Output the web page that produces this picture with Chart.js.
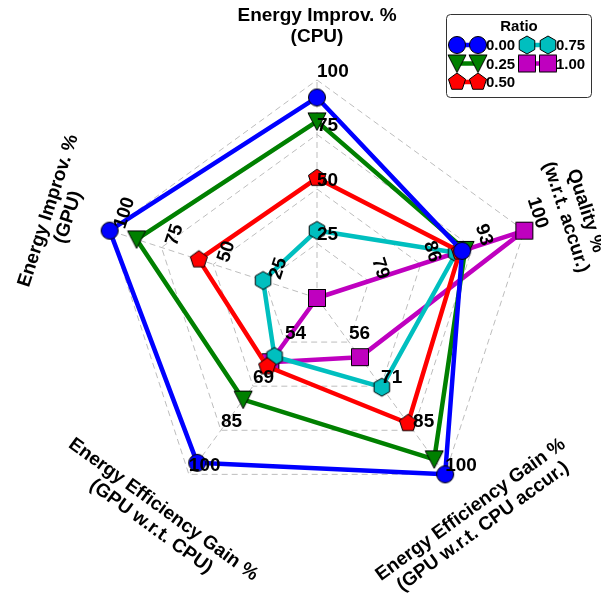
<!DOCTYPE html>
<html>
<head>
<meta charset="utf-8">
<script src="https://cdn.jsdelivr.net/npm/chart.js@4.4.1/dist/chart.umd.min.js"></script>
<style>
  html, body { margin: 0; padding: 0; background: #fff; }
  #wrap { width: 601px; height: 598px; }
</style>
</head>
<body>
<div id="wrap"><canvas id="radar" width="601" height="598"></canvas></div>
<script>
// Axis titles, clockwise from the top
const axisTitles = [
  ['Energy Improv. %', '(CPU)'],
  ['Quality %', '(w.r.t. accur.)'],
  ['Energy Efficiency Gain %', '(GPU w.r.t. CPU accur.)'],
  ['Energy Efficiency Gain %', '(GPU w.r.t. CPU)'],
  ['Energy Improv. %', '(GPU)'],
];

// Each axis has its own range (centre .. outer ring)
const axisMin = [0, 72, 41.33, 38.67, 0];
const axisMax = [100, 100, 100, 100, 100];

// Ring labels per axis (inner to outer)
const tickLabels = [
  ['25', '50', '75', '100'],
  ['79', '86', '93', '100'],
  ['56', '71', '85', '100'],
  ['54', '69', '85', '100'],
  ['25', '50', '75', '100'],
];

// Series, one per ratio, values in axis order
const ratios = ['0.00', '0.25', '0.50', '0.75', '1.00'];
const ratio000 = [92, 91.6, 100, 96, 100];
const ratio025 = [81, 92, 95, 74, 87];
const ratio050 = [55, 91.3, 83, 62.5, 57];
const ratio075 = [31, 90.8, 71, 59, 26];
const ratio100 = [0, 100, 61, 61, 0];

const FONT = '"Liberation Sans", Arial, sans-serif';

// Build a marker image (circle, square, triangle, pentagon, hexagon)
function makeMarker(shape, color) {
  const s = 24;
  const c = document.createElement('canvas');
  c.width = s; c.height = s;
  const g = c.getContext('2d');
  g.translate(s / 2, s / 2);
  g.beginPath();
  if (shape === 'circle') {
    g.arc(0, 0, 8.5, 0, Math.PI * 2);
  } else if (shape === 'square') {
    g.rect(-8.5, -8.5, 17, 17);
  } else if (shape === 'triangleDown') {
    g.moveTo(-9, -8.5); g.lineTo(9, -8.5); g.lineTo(0, 9); g.closePath();
  } else {
    const n = shape === 'pentagon' ? 5 : 6;
    const r = 9;
    for (let k = 0; k < n; k++) {
      const a = -Math.PI / 2 + k * 2 * Math.PI / n;
      const x = r * Math.cos(a), y = r * Math.sin(a);
      if (k === 0) g.moveTo(x, y); else g.lineTo(x, y);
    }
    g.closePath();
  }
  g.fillStyle = color;
  g.fill();
  g.lineWidth = 1;
  g.strokeStyle = '#000';
  g.stroke();
  return c;
}

// Map a raw value onto the 0..1 radial scale of its axis
function normalise(values) {
  return values.map((v, i) => (v - axisMin[i]) / (axisMax[i] - axisMin[i]));
}

const seriesStyle = [
  { values: ratio000, color: '#0000ff', shape: 'circle' },
  { values: ratio025, color: '#008000', shape: 'triangleDown' },
  { values: ratio050, color: '#ff0000', shape: 'pentagon' },
  { values: ratio075, color: '#00bfbf', shape: 'hexagon' },
  { values: ratio100, color: '#bf00bf', shape: 'square' },
];

const datasets = seriesStyle.map((s, i) => {
  const marker = makeMarker(s.shape, s.color);
  return {
    label: ratios[i],
    data: normalise(s.values),
    borderColor: s.color,
    backgroundColor: s.color,
    borderWidth: 4.5,
    borderJoinStyle: 'round',
    fill: false,
    pointStyle: marker,
    pointRadius: 9,
    clip: false,
  };
});

// Ring labels, rotated per axis, box-aligned left/bottom at the ring point
const tickRotation = [0, 72, 0, 0, -72];
const ringLabelsPlugin = {
  id: 'ringLabels',
  afterDatasetsDraw(chart) {
    const scale = chart.scales.r;
    const ctx = chart.ctx;
    const size = 19;
    ctx.save();
    ctx.font = 'bold ' + size + 'px ' + FONT;
    ctx.fillStyle = '#000';
    ctx.textAlign = 'center';
    ctx.textBaseline = 'middle';
    const ringValues = scale.ticks.map(t => t.value).filter(v => v > 0);
    tickLabels.forEach((labels, i) => {
      const rot = tickRotation[i] * Math.PI / 180;
      labels.forEach((txt, k) => {
        const p = scale.getPointPositionForValue(i, ringValues[k]);
        const w = ctx.measureText(txt).width;
        const h = size;
        const bw = Math.abs(w * Math.cos(rot)) + Math.abs(h * Math.sin(rot));
        const bh = Math.abs(w * Math.sin(rot)) + Math.abs(h * Math.cos(rot));
        ctx.save();
        ctx.translate(p.x + bw / 2, p.y - bh / 2);
        ctx.rotate(rot);
        ctx.fillText(txt, 0, 1);
        ctx.restore();
      });
    });
    ctx.restore();
  }
};

// Axis titles drawn tangentially outside the outer ring
const axisTitlesPlugin = {
  id: 'axisTitles',
  afterDraw(chart) {
    const scale = chart.scales.r;
    const ctx = chart.ctx;
    ctx.save();
    ctx.font = 'bold 19px ' + FONT;
    ctx.fillStyle = '#000';
    ctx.textAlign = 'center';
    ctx.textBaseline = 'middle';
    chart.data.labels.forEach((lines, i) => {
      const p = scale.getPointPosition(i, scale.drawingArea + 54);
      let rot = scale.getIndexAngle(i);
      while (rot > Math.PI / 2) rot -= Math.PI;
      while (rot < -Math.PI / 2) rot += Math.PI;
      ctx.save();
      ctx.translate(p.x, p.y);
      ctx.rotate(rot);
      lines.forEach((line, k) => {
        ctx.fillText(line, 0, (k - (lines.length - 1) / 2) * 21);
      });
      ctx.restore();
    });
    ctx.restore();
  }
};

// Two-column legend with marker-line-marker samples
const legendPlugin = {
  id: 'ratioLegend',
  afterDraw(chart) {
    const ctx = chart.ctx;
    const box = { x: 446.5, y: 14.5, w: 145, h: 83 };
    ctx.save();
    ctx.beginPath();
    ctx.roundRect(box.x, box.y, box.w, box.h, 4);
    ctx.fillStyle = '#fff';
    ctx.fill();
    ctx.lineWidth = 1;
    ctx.strokeStyle = '#333';
    ctx.stroke();
    ctx.fillStyle = '#000';
    ctx.font = 'bold 15px ' + FONT;
    ctx.textAlign = 'center';
    ctx.textBaseline = 'middle';
    ctx.fillText('Ratio', box.x + box.w / 2, 27);
    ctx.textAlign = 'left';
    chart.data.datasets.forEach((ds, i) => {
      const col = Math.floor(i / 3), row = i % 3;
      const x0 = 457 + col * 70;
      const y = 45 + row * 18.5;
      ctx.beginPath();
      ctx.moveTo(x0, y);
      ctx.lineTo(x0 + 21, y);
      ctx.strokeStyle = ds.borderColor;
      ctx.lineWidth = 4.5;
      ctx.stroke();
      const img = ds.pointStyle;
      ctx.drawImage(img, x0 - img.width / 2, y - img.height / 2);
      ctx.drawImage(img, x0 + 21 - img.width / 2, y - img.height / 2);
      ctx.fillStyle = '#000';
      ctx.fillText(ds.label, x0 + 29, y + 1);
    });
    ctx.restore();
  }
};

new Chart(document.getElementById('radar'), {
  type: 'radar',
  data: { labels: axisTitles, datasets: datasets },
  options: {
    responsive: false,
    animation: false,
    devicePixelRatio: 1,
    layout: { padding: { left: 99, right: 66, top: 80, bottom: 82 } },
    plugins: { legend: { display: false }, tooltip: { enabled: false } },
    elements: { line: { tension: 0 } },
    scales: {
      r: {
        min: 0,
        max: 1,
        ticks: { display: false, stepSize: 0.25 },
        pointLabels: { display: false },
        grid: { color: '#bdbdbd', lineWidth: 1 },
        border: { dash: [6, 4] },
        angleLines: { color: '#bdbdbd', lineWidth: 1, borderDash: [6, 4] },
      }
    }
  },
  plugins: [ringLabelsPlugin, axisTitlesPlugin, legendPlugin]
});
</script>
</body>
</html>
